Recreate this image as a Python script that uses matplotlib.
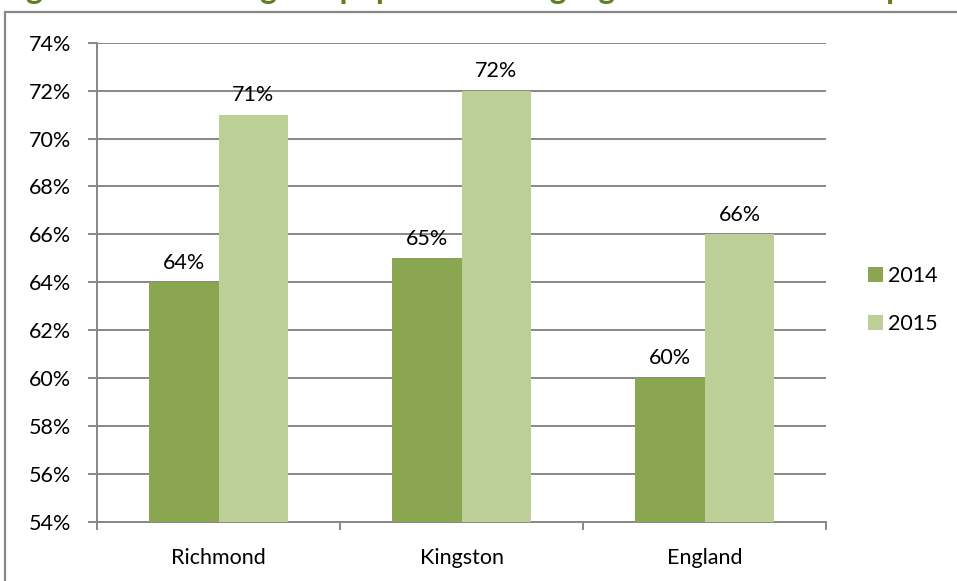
import matplotlib
matplotlib.use("Agg")
import matplotlib.pyplot as plt
from matplotlib.patches import Patch, Rectangle
import numpy as np

plt.rcParams['font.family'] = ['Lato', 'DejaVu Sans']

categories = ["Richmond", "Kingston", "England"]
series_names = ["2014", "2015"]
values_2014 = [64, 65, 60]
values_2015 = [71, 72, 66]
y_ticks = [54, 56, 58, 60, 62, 64, 66, 68, 70, 72, 74]
title_text = "Figure 5: Percentage of pupils achieving a good level of development"

color_2014 = "#8AA650"
color_2015 = "#BBCF96"
grid_color = "#878787"

fig = plt.figure(figsize=(9.57, 5.81), dpi=100)
W, H = 957, 581

# outer chart frame (runs off the right and bottom edges)
fig.patches.append(Rectangle((4.5 / W, -0.05), 1.1, (H - 12.5) / H + 0.05,
                             transform=fig.transFigure, fill=False,
                             edgecolor=grid_color, linewidth=1.6))

# heading above the chart frame, mostly above the top edge
fig.text(0 / W, 1 + 0.5 / H, title_text, color="#5E7F22", fontsize=23,
         fontweight="bold", ha="left", va="baseline")

ax = fig.add_axes([97 / W, 1 - 522 / H, (826 - 97) / W, (522 - 42.7) / H])

x = np.arange(len(categories))
bw = 0.288
bars1 = ax.bar(x - bw / 2, values_2014, bw, color=color_2014, zorder=3,
               label=series_names[0])
bars2 = ax.bar(x + bw / 2, values_2015, bw, color=color_2015, zorder=3,
               label=series_names[1])

for bars, vals in ((bars1, values_2014), (bars2, values_2015)):
    for b, v in zip(bars, vals):
        ax.annotate(f"{v}%", (b.get_x() + b.get_width() / 2, v),
                    xytext=(0, 7), textcoords="offset points",
                    ha="center", va="bottom", fontsize=15.5, color="black")

ax.set_ylim(54, 74)
ax.set_xlim(-0.5, len(categories) - 0.5)
ax.set_yticks(y_ticks)
ax.set_yticklabels([f"{t}%" for t in y_ticks])
ax.yaxis.grid(True, color=grid_color, linewidth=1.4, zorder=0)
ax.set_axisbelow(True)

ax.set_xticks(x)
ax.set_xticklabels(categories)
ax.set_xticks(np.arange(-0.5, len(categories)), minor=True)
ax.tick_params(axis="x", which="major", length=0, pad=19, labelsize=15.5)
ax.tick_params(axis="x", which="minor", length=6, width=1.4,
               color=grid_color, direction="out")
ax.tick_params(axis="y", length=6.5, width=1.4, color=grid_color,
               pad=12, labelsize=15.5)

for side in ("top", "right"):
    ax.spines[side].set_visible(False)
for side in ("left", "bottom"):
    ax.spines[side].set_color(grid_color)
    ax.spines[side].set_linewidth(1.4)

handles = [Patch(facecolor=color_2014, edgecolor="none"),
           Patch(facecolor=color_2015, edgecolor="none")]
fig.legend(handles, series_names, loc="center left",
           bbox_to_anchor=(849 / W, 1 - 300 / H), frameon=False,
           fontsize=15.5, handlelength=0.7, handleheight=0.7,
           handletextpad=0.2, labelspacing=1.32)

fig.savefig("out.png", dpi=100)
